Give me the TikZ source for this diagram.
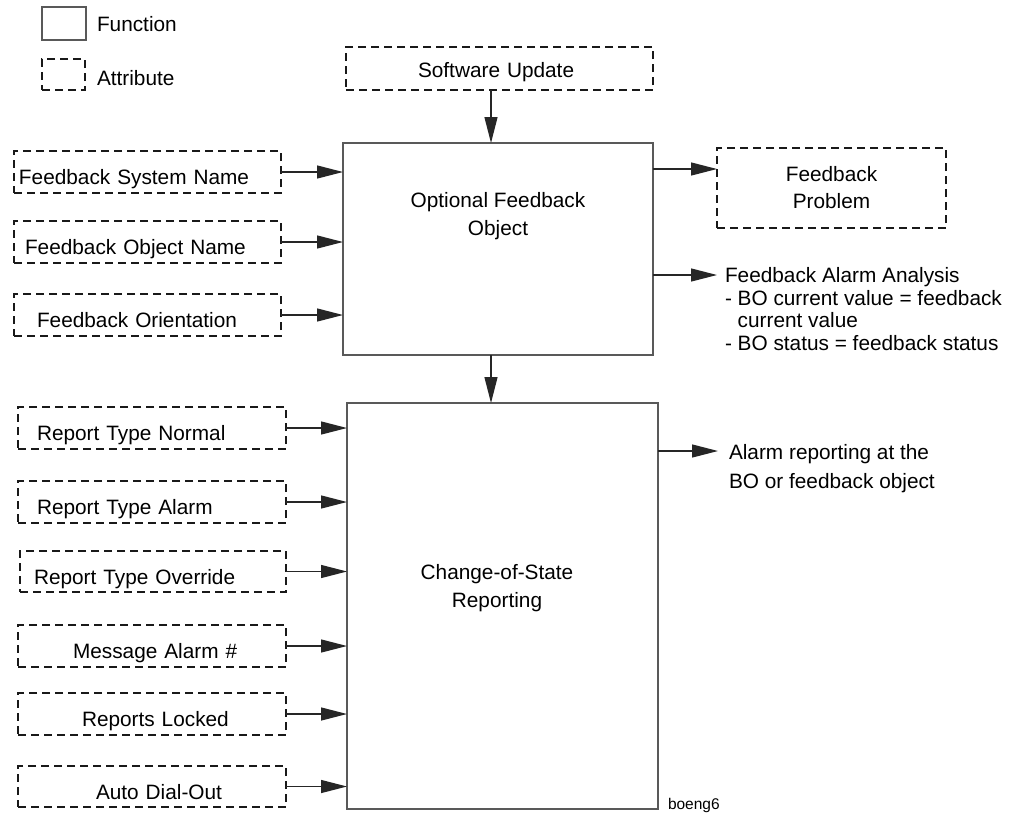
\documentclass[tikz,border=0pt]{standalone}
\usepackage{fontspec}
\setmainfont{Liberation Sans}
\usetikzlibrary{arrows.meta,calc}

\begin{document}
\begin{tikzpicture}[x=1pt,y=-1pt,
  every node/.style={font=\fontsize{20.8}{22.7}\selectfont, inner sep=0pt, outer sep=0pt},
  func/.style={draw=black!65, line width=1.4pt, anchor=north west},
  attr/.style={draw=black!90, line width=1.8pt, dash pattern=on 8pt off 5pt, anchor=north west},
  attrtext/.style={attr, align=left, text height=25pt, text depth=0pt},
  flow/.style={draw=black!85, line width=1.3pt, -{Triangle[length=26pt,width=13pt]}},
  note/.style={anchor=north west, align=left},
]
\useasboundingbox (0,0) rectangle (1015,817);

% legend
\node[func, minimum width=44pt, minimum height=33pt] (legf) at (42,7) {};
\node[anchor=west] (legft) at (97,24) {Function};
\node[attr, minimum width=43pt, minimum height=31pt] (lega) at (42,59) {};
\node[anchor=west] (legat) at (97,78) {Attribute};

% main function blocks
\node[func, minimum width=310pt, minimum height=212pt] (obj) at (343,143) {};
\node[align=center, font=\fontsize{20.8}{28}\selectfont] (objt) at (498,216) {Optional Feedback\\Object};
\node[func, minimum width=311pt, minimum height=406pt] (cos) at (347,403) {};
\node[align=center, font=\fontsize{20.8}{28}\selectfont] (cost) at (497,588) {Change-of-State\\Reporting};

% top input
\node[attrtext, text height=17pt, minimum width=307pt, text width=307pt, minimum height=43pt] (sw) at (346,47) {\hspace*{72pt}Software Update};
\coordinate (axis) at (491,0);
\draw[flow] (sw.south -| axis) -- (obj.north -| axis);
\draw[flow] (obj.south -| axis) -- (cos.north -| axis);

% inputs to the feedback object
\node[attrtext, minimum width=267pt, text width=267pt, minimum height=42pt] (fsn) at (14,151) {\hspace*{5pt}Feedback System Name};
\node[attrtext, minimum width=267pt, text width=267pt, minimum height=42pt] (fon) at (14,221) {\hspace*{11pt}Feedback Object Name};
\node[attrtext, minimum width=267pt, text width=267pt, minimum height=42pt] (for) at (14,294) {\hspace*{23pt}Feedback Orientation};
\foreach \n in {fsn,fon,for}
  \draw[flow] (\n.east) -- (\n.east -| obj.west);

% inputs to change-of-state reporting
\node[attrtext, minimum width=268pt, text width=268pt, minimum height=42pt] (rtn) at (18,407) {\hspace*{19pt}Report Type Normal};
\node[attrtext, minimum width=268pt, text width=268pt, minimum height=42pt] (rta) at (18,481) {\hspace*{19pt}Report Type Alarm};
\node[attrtext, minimum width=266pt, text width=266pt, minimum height=41pt] (rto) at (20,551) {\hspace*{14pt}Report Type Override};
\node[attrtext, minimum width=268pt, text width=268pt, minimum height=42pt] (mal) at (18,625) {\hspace*{55pt}Message Alarm \#};
\node[attrtext, minimum width=268pt, text width=268pt, minimum height=42pt] (rlk) at (18,693) {\hspace*{64pt}Reports Locked};
\node[attrtext, minimum width=268pt, text width=268pt, minimum height=41pt] (ado) at (18,766) {\hspace*{78pt}Auto Dial-Out};
\foreach \n in {rtn,rta,rto,mal,rlk,ado}
  \draw[flow] (\n.east) -- (\n.east -| cos.west);

% outputs
\node[attr, minimum width=229pt, minimum height=80pt, align=center, font=\fontsize{20.8}{27}\selectfont] (prob) at (717,148) {Feedback\\Problem};
\coordinate (probin) at (717,169);
\draw[flow] (obj.east |- probin) -- (probin);

\coordinate (fbain) at (717,275);
\draw[flow] (obj.east |- fbain) -- (fbain);
\node[note] (fba) at (725,267.5) {Feedback Alarm Analysis\\- BO current value = feedback\\\phantom{- }current value\\- BO status = feedback status};

\coordinate (arin) at (718,451);
\draw[flow] (cos.east |- arin) -- (arin);
\node[note, font=\fontsize{20.8}{29.5}\selectfont] (ar) at (729,444) {Alarm reporting at the\\BO or feedback object};

\node[anchor=west, font=\fontsize{15.5}{18}\selectfont] (tag) at (668,805) {boeng6};
\end{tikzpicture}
\end{document}
